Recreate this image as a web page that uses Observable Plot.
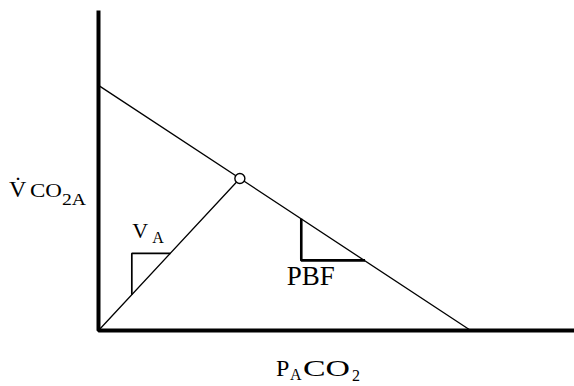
<!DOCTYPE html>
<html>
<head>
<meta charset="utf-8">
<script src="https://cdn.jsdelivr.net/npm/d3@7"></script>
<script src="https://cdn.jsdelivr.net/npm/@observablehq/plot@0.6"></script>
<style>
  html, body { margin: 0; padding: 0; background: #fff; }
  #chart svg { display: block; }
</style>
</head>
<body>
<div id="chart"></div>
<script>
// Axes frame (abstract units 0..100)
const axisPath = [{x: 0, y: 100}, {x: 0, y: 0}, {x: 100, y: 0}];
// Blood (PBF) line: VCO2A intercept and PACO2 intercept
const bloodLine = [{x: 0, y: 76.6}, {x: 78.2, y: 0}];
// Equilibrium point
const equilibrium = [{x: 29.7, y: 47.5}];
// Ventilation (VA) line from origin to the equilibrium point
const vaLine = [{x: 0, y: 0}, {x: 29.7, y: 47.5}];
// Slope triangles
const vaSlope = [{x: 7, y: 11.2}, {x: 7, y: 24.1}, {x: 15.1, y: 24.1}];
const pbfSlope = [{x: 42.6, y: 34.9}, {x: 42.6, y: 21.9}, {x: 56.0, y: 21.9}];

const plot = Plot.plot({
  width: 574,
  height: 386,
  marginLeft: 98,
  marginRight: 0,
  marginTop: 10,
  marginBottom: 56,
  x: {domain: [0, 100], axis: null},
  y: {domain: [0, 100], axis: null},
  style: {background: "#fff", fontFamily: "'Liberation Serif', 'Times New Roman', serif"},
  marks: [
    Plot.line(bloodLine, {x: "x", y: "y", stroke: "#000", strokeWidth: 1.3}),
    Plot.line(vaLine, {x: "x", y: "y", stroke: "#000", strokeWidth: 1.3}),
    Plot.line(vaSlope, {x: "x", y: "y", stroke: "#000", strokeWidth: 1.7, strokeLinejoin: "miter", strokeLinecap: "butt"}),
    Plot.line(pbfSlope, {x: "x", y: "y", stroke: "#000", strokeWidth: 2.6, strokeLinejoin: "miter", strokeLinecap: "butt"}),
    Plot.dot(equilibrium, {x: "x", y: "y", r: 5, fill: "#fff", stroke: "#000", strokeWidth: 1.4}),
    Plot.line(axisPath, {x: "x", y: "y", stroke: "#000", strokeWidth: 4, strokeLinejoin: "miter", strokeLinecap: "butt"})
  ]
});

document.getElementById("chart").appendChild(plot);

// Text annotations (real SVG text), anchored through the plot's scales
const sx = plot.scale("x"), sy = plot.scale("y");
const X = v => sx.apply(v), Y = v => sy.apply(v);
const svg = d3.select(plot);
const g = svg.append("g")
  .attr("font-family", "'Liberation Serif', 'Times New Roman', serif")
  .attr("text-anchor", "start")
  .attr("fill", "#000");

// place text with its left edge at x, baseline at y; optionally stretch horizontally to width w
function put(text, x, y, size, w) {
  const t = g.append("text").attr("x", 0).attr("y", 0)
    .attr("text-anchor", "start").attr("font-size", size).text(text);
  let k = 1;
  if (w) {
    const n = t.node().getComputedTextLength();
    if (n > 0) k = w / n;
  }
  t.attr("transform", `translate(${x},${y}) scale(${k},1)`);
  return t;
}

// y-axis label: V̇CO2A
put("V\u0307", 9, 197, 24);
put("CO", 30, 197, 19, 32);
put("2A", 62, 205, 17, 24);

// x-axis label: PACO2
put("P", 276, 376, 24);
put("A", 290, 380, 16);
put("CO", 303, 376, 24, 47);
put("2", 352, 381, 16);

// VA slope label
put("V", X(vaSlope[0].x) + 1, Y(vaSlope[1].y) - 15, 22);
put("A", X(vaSlope[0].x) + 21, Y(vaSlope[1].y) - 10, 16);

// PBF slope label
put("PBF", X(pbfSlope[0].x) - 14, Y(pbfSlope[1].y) + 25, 28, 48);
</script>
</body>
</html>
